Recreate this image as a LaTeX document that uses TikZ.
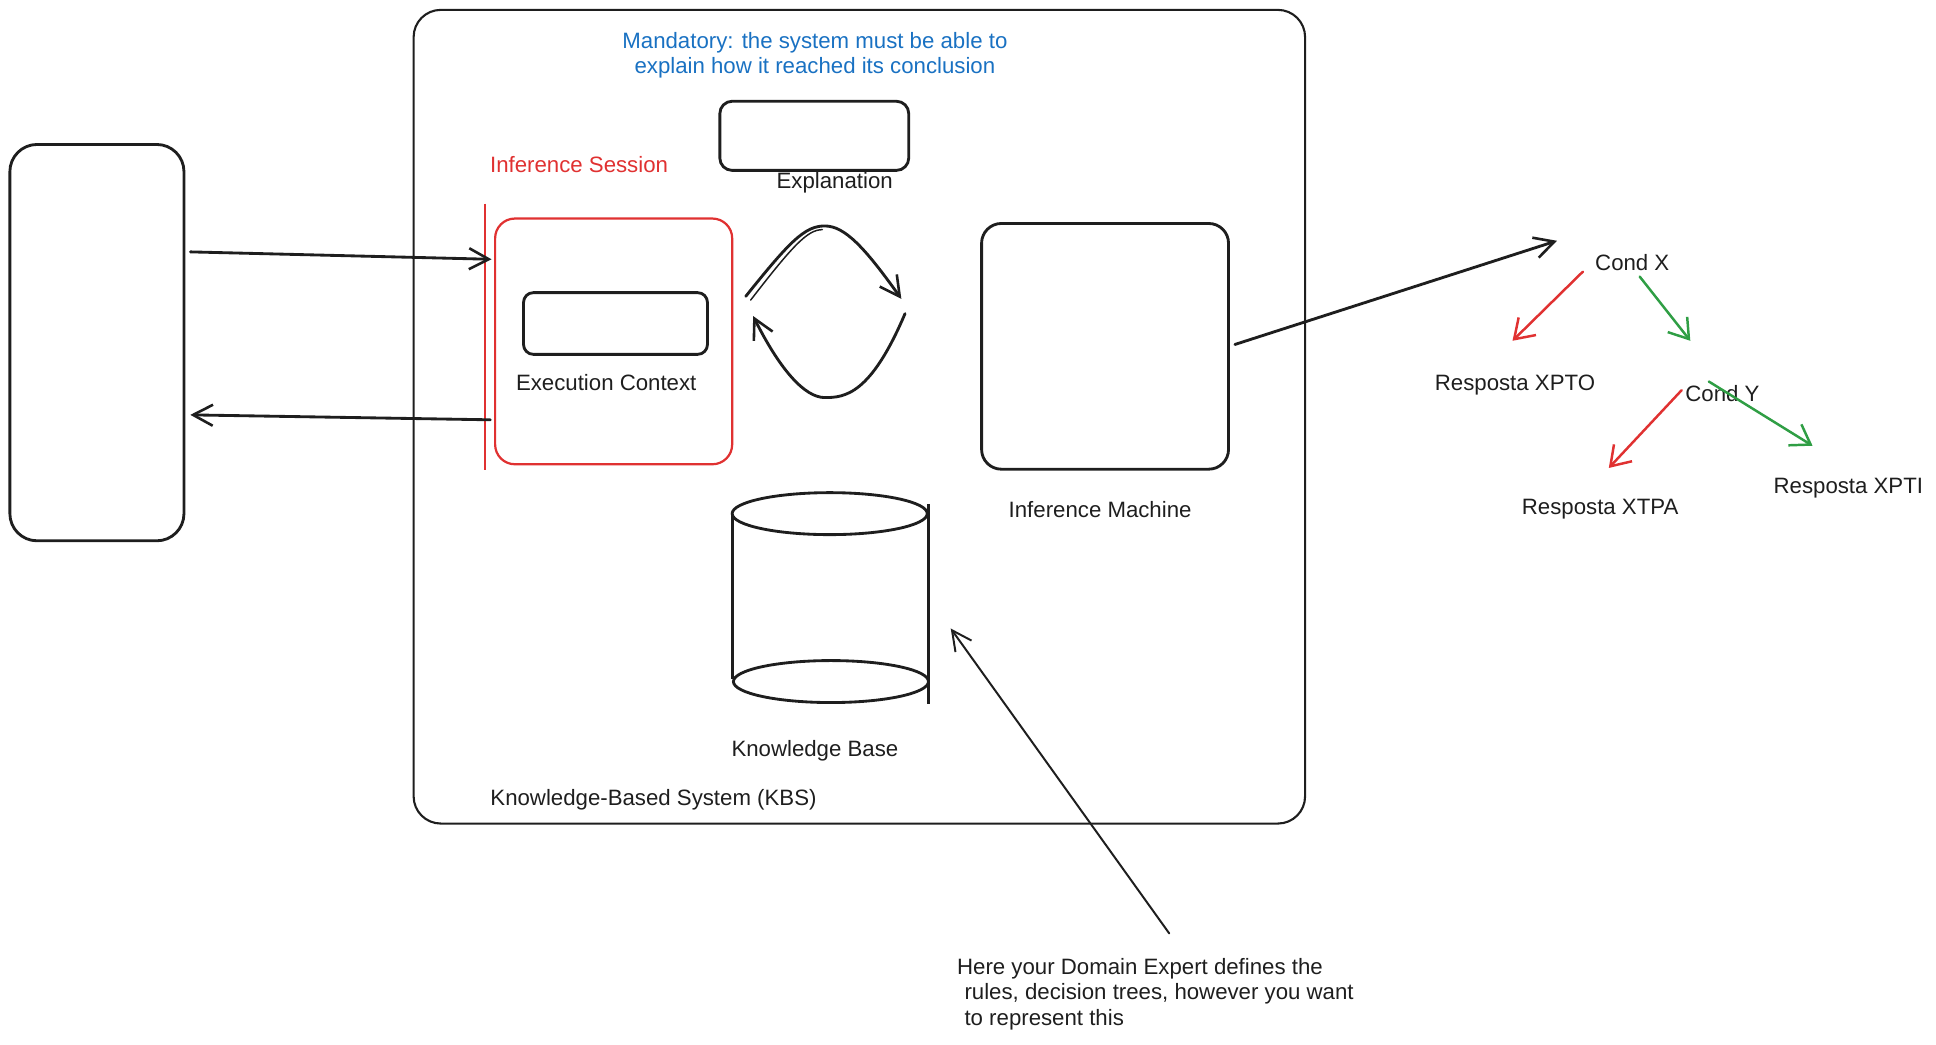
\documentclass[tikz,border=0pt]{standalone}
\usepackage{fontspec}
\setmainfont{Liberation Sans}
\usetikzlibrary{arrows.meta,calc}
\definecolor{exred}{HTML}{E03131}
\definecolor{exgreen}{HTML}{2F9E44}
\definecolor{exblue}{HTML}{1971C2}
\definecolor{exink}{HTML}{1E1E1E}
\begin{document}
\begin{tikzpicture}[x=1pt,y=-1pt,
  box/.style={draw=exink, line width=2.3pt, rounded corners=#1, inner sep=0pt},
  lbl/.style={font=\fontsize{18}{20.5}\selectfont, text=exink, inner sep=0pt},
  arr/.style={draw=exink, line width=2.3pt, line cap=round, -{Straight Barb[length=16pt,width=17pt,line width=2.1pt]}},
  tarr/.style={line width=2pt, line cap=round, -{Straight Barb[length=15pt,width=20pt,line width=2pt]}},
  thin/.style={draw=exink, line width=1.6pt, line cap=round, -{Straight Barb[length=16pt,width=16pt,line width=1.6pt]}}]
\useasboundingbox (0,0) rectangle (1568,846);

% main containers
\node[box=22pt, line width=1.7pt, minimum width=722pt, minimum height=659pt] (kbs) at (696,337.5) {};
\node[box=22pt, minimum width=141pt, minimum height=321pt] (client) at (78.5,277.5) {};
\node[box=10pt, minimum width=153pt, minimum height=56pt] (expl) at (659.5,110) {};
\node[box=16pt, draw=exred, line width=1.8pt, minimum width=192pt, minimum height=199pt] (session) at (497,276.5) {};
\node[box=8pt, minimum width=149pt, minimum height=50pt] (ctx) at (498.5,262) {};
\node[box=16pt, minimum width=200pt, minimum height=199pt] (im) at (895,280.5) {};

% red session bar
\draw[exred, line width=1.9pt] (393,165) -- (393,381);

% labels
\node[lbl, text=exblue, align=center] (mand) at (660,45) {Mandatory: the system must be able to\\ explain how it reached its conclusion};
\node[lbl] (expllbl) at (676,148) {Explanation};
\node[lbl, text=exred] (sesslbl) at (469,133) {Inference Session};
\node[lbl] (ctxlbl) at (491,310) {Execution Context};
\node[lbl] (imlbl) at (891,413) {Inference Machine};
\node[lbl] (kblbl) at (660,608) {Knowledge Base};
\node[lbl, anchor=west] (kbslbl) at (397,648) {Knowledge-Based System (KBS)};

% knowledge base cylinder
\coordinate (kb) at (672,484);
\draw[exink, line width=2.3pt] ($(kb)+(0,-68)$) ellipse [x radius=79, y radius=17];
\draw[exink, line width=2.3pt] ($(kb)+(1,68)$) ellipse [x radius=79, y radius=17];
\draw[exink, line width=2.3pt] ($(kb)+(-79,-68)$) -- ($(kb)+(-79,66)$);
\draw[exink, line width=2pt] ($(kb)+(80,-76)$) -- ($(kb)+(80,86)$);

% client <-> session
\draw[arr] ($(client.east)+(4,-73.5)$) -- ($(session.west)+(-2,-66.5)$);
\draw[arr] ($(session.west)+(-3,63.5)$) -- ($(client.east)+(4,58.5)$);

% loop arrows between session and inference machine
\coordinate (lpA) at (604,240);
\coordinate (lpB) at (730,242);
\coordinate (lpC) at (733,254);
\coordinate (lpD) at (610,256);
\draw[arr] (lpA) .. controls (640,195) and (652,183) .. (668,183) .. controls (684,183) and (700,200) .. (lpB);
\draw[exink, line width=1.2pt, line cap=round] ($(lpA)+(4,3)$) .. controls (642,199) and (654,186) .. (666,186);
\draw[arr] (lpC) .. controls (705,320) and (684,322) .. (668,322) .. controls (652,322) and (632,300) .. (lpD);

% decision tree
\node[lbl] (condx) at (1322,213) {Cond X};
\node[lbl] (xpto) at (1227,312) {Resposta XPTO};
\node[lbl] (condy) at (1395,319) {Cond Y};
\node[lbl] (xtpa) at (1296,412) {Resposta XTPA};
\node[lbl] (xpti) at (1497,395) {Resposta XPTI};

\draw[arr] ($(im.east)+(4,-1.5)$) -- ($(condx)+(-61,-18)$);
\draw[tarr, exred] ($(condx)+(-40,7)$) -- ($(xpto)+(-2,-36)$);
\draw[tarr, exgreen] ($(condx)+(6,11)$) -- ($(condy)+(-26,-43)$);
\draw[tarr, exred] ($(condy)+(-33,-3)$) -- ($(xtpa)+(7,-33)$);
\draw[tarr, exgreen] ($(condy)+(-11,-10)$) -- ($(xpti)+(-29,-34)$);

% note
\node[lbl, anchor=north west, align=left] (note) at (775,776) {Here your Domain Expert defines the\\\hspace*{6pt}rules, decision trees, however you want\\\hspace*{6pt}to represent this};
\draw[thin] ($(note.north west)+(172,-20)$) -- ($(kb)+(98,25)$);
\end{tikzpicture}
\end{document}
